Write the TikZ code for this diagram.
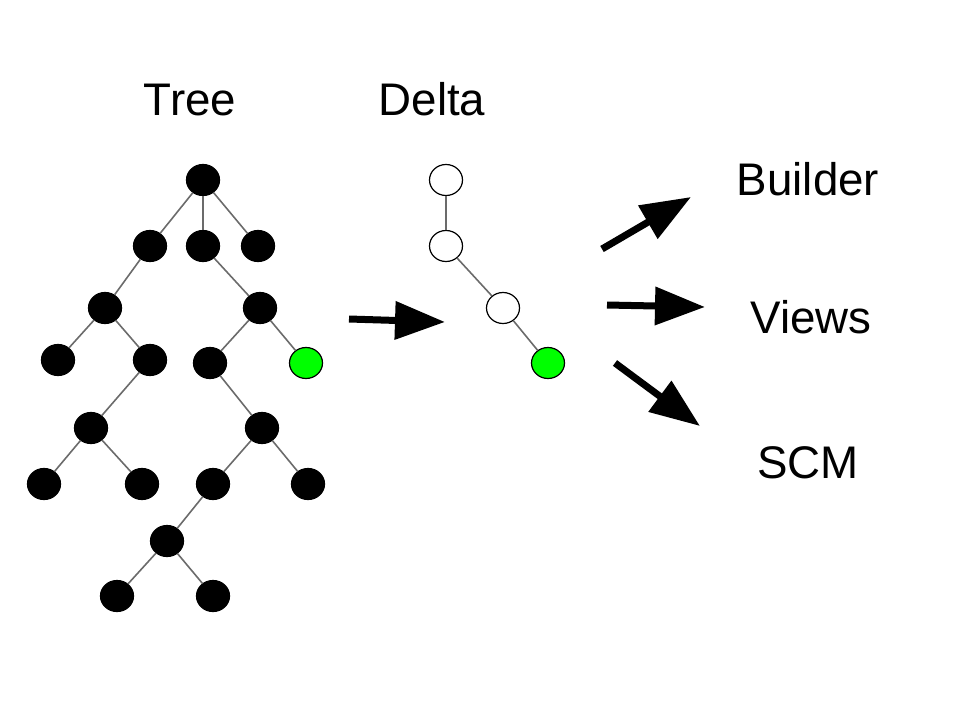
\documentclass[tikz,border=0pt]{standalone}
\usepackage{fontspec}
\setmainfont{Liberation Sans}
\usetikzlibrary{shapes.geometric,arrows.meta,positioning}
\tikzset{
	vtx/.style={ellipse, draw=black, fill=black, line width=1.2pt, minimum width=33pt, minimum height=31pt, inner sep=0pt},
	vtxw/.style={vtx, fill=white},
	vtxg/.style={vtx, fill=green},
	link/.style={black!58, line width=1.6pt},
	lbl/.style={font=\fontsize{45.7}{50}\selectfont, inner sep=0pt, anchor=base},
	bigarrow/.style={line width=7pt, -{Triangle[length=50pt, width=37pt]}},
}

\begin{document}
\begin{tikzpicture}[x=1pt, y=-1pt]
	\useasboundingbox (0,0) rectangle (960,720);

	% the full tree
	\node[vtx] (a1) at (203,180) {};
	\node[vtx] (b1) at (150,246) {};
	\node[vtx] (b2) at (203,246) {};
	\node[vtx] (b3) at (258,246) {};
	\node[vtx] (c1) at (105,308) {};
	\node[vtx] (c2) at (260,308) {};
	\node[vtx] (d1) at (58,360) {};
	\node[vtx] (d2) at (150,360) {};
	\node[vtx] (d3) at (210,363) {};
	\node[vtxg] (d4) at (306,363) {};
	\node[vtx] (e1) at (91,428) {};
	\node[vtx] (e2) at (262,428) {};
	\node[vtx] (f1) at (44,484) {};
	\node[vtx] (f2) at (142,484) {};
	\node[vtx] (f3) at (213,484) {};
	\node[vtx] (f4) at (308,484) {};
	\node[vtx] (g1) at (167,541) {};
	\node[vtx] (h1) at (117,596) {};
	\node[vtx] (h2) at (213,596) {};

	\draw[link] (a1) -- (b1) (a1) -- (b2) (a1) -- (b3);
	\draw[link] (b1) -- (c1) (b2) -- (c2);
	\draw[link] (c1) -- (d1) (c1) -- (d2) (c2) -- (d3) (c2) -- (d4);
	\draw[link] (d2) -- (e1) (d3) -- (e2);
	\draw[link] (e1) -- (f1) (e1) -- (f2) (e2) -- (f3) (e2) -- (f4);
	\draw[link] (f3) -- (g1) (g1) -- (h1) (g1) -- (h2);

	% the delta
	\node[vtxw] (p1) at (446,180) {};
	\node[vtxw] (p2) at (446,246) {};
	\node[vtxw] (p3) at (503,308) {};
	\node[vtxg] (p4) at (548,363) {};
	\draw[link] (p1) -- (p2) -- (p3) -- (p4);

	\node[lbl] (tree) at (190,115) {Tree};
	\node[lbl] (delta) at (432,115) {Delta};
	\node[lbl] (builder) at (808,195) {Builder};
	\node[lbl] (views) at (811,333) {Views};
	\node[lbl] (scm) at (808,478) {SCM};

	% arrows
	\coordinate (in0) at (349,319);
	\coordinate (in1) at (445,322);
	\coordinate (bu0) at (602,249);
	\coordinate (bu1) at (691,197);
	\coordinate (vi0) at (607,305);
	\coordinate (vi1) at (705,307);
	\coordinate (sc0) at (615,363);
	\coordinate (sc1) at (700,426);
	\draw[bigarrow] (in0) -- (in1);
	\draw[bigarrow] (bu0) -- (bu1);
	\draw[bigarrow] (vi0) -- (vi1);
	\draw[bigarrow] (sc0) -- (sc1);
\end{tikzpicture}
\end{document}
